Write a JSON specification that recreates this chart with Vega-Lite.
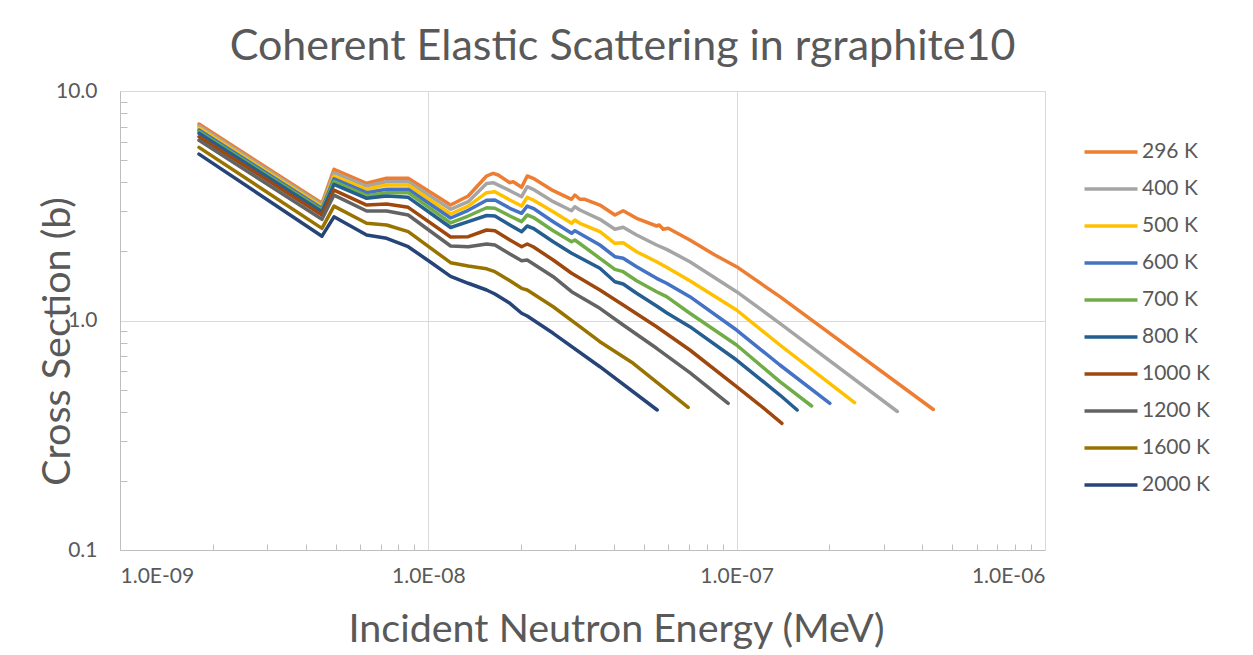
{
  "$schema": "https://vega.github.io/schema/vega-lite/v6.json",
  "width": 925,
  "height": 459,
  "autosize": {"type": "none"},
  "padding": {"left": 120, "top": 91, "right": 208, "bottom": 105},
  "background": "white",
  "config": {
    "font": "Lato",
    "view": {"stroke": "#d9d9d9", "strokeWidth": 1}
  },
  "title": {
    "text": "Coherent Elastic Scattering in rgraphite10",
    "font": "Lato",
    "fontSize": 43,
    "fontWeight": "normal",
    "color": "#595959",
    "anchor": "middle",
    "dx": 40,
    "baseline": "alphabetic",
    "offset": -23
  },
  "datasets": {
    "xs": [
      {"T": "296 K", "E": 1.804e-9, "s": 7.18}, {"T": "296 K", "E": 4.519e-9, "s": 3.24}, {"T": "296 K", "E": 4.943e-9, "s": 4.56},
      {"T": "296 K", "E": 6.308e-9, "s": 3.961}, {"T": "296 K", "E": 7.324e-9, "s": 4.165}, {"T": "296 K", "E": 8.605e-9, "s": 4.165},
      {"T": "296 K", "E": 1.181e-8, "s": 3.185}, {"T": "296 K", "E": 1.347e-8, "s": 3.487}, {"T": "296 K", "E": 1.545e-8, "s": 4.262},
      {"T": "296 K", "E": 1.623e-8, "s": 4.379}, {"T": "296 K", "E": 1.685e-8, "s": 4.305}, {"T": "296 K", "E": 1.839e-8, "s": 3.985},
      {"T": "296 K", "E": 1.885e-8, "s": 4.026}, {"T": "296 K", "E": 2.007e-8, "s": 3.805}, {"T": "296 K", "E": 2.093e-8, "s": 4.262},
      {"T": "296 K", "E": 2.188e-8, "s": 4.165}, {"T": "296 K", "E": 2.541e-8, "s": 3.678}, {"T": "296 K", "E": 2.915e-8, "s": 3.374},
      {"T": "296 K", "E": 2.988e-8, "s": 3.522}, {"T": "296 K", "E": 3.101e-8, "s": 3.374}, {"T": "296 K", "E": 3.219e-8, "s": 3.374},
      {"T": "296 K", "E": 3.601e-8, "s": 3.185}, {"T": "296 K", "E": 4.028e-8, "s": 2.882}, {"T": "296 K", "E": 4.285e-8, "s": 3.009},
      {"T": "296 K", "E": 4.737e-8, "s": 2.788}, {"T": "296 K", "E": 5.5e-8, "s": 2.581}, {"T": "296 K", "E": 5.607e-8, "s": 2.607},
      {"T": "296 K", "E": 5.777e-8, "s": 2.497}, {"T": "296 K", "E": 5.996e-8, "s": 2.522}, {"T": "296 K", "E": 7.05e-8, "s": 2.243},
      {"T": "296 K", "E": 8.5e-8, "s": 1.929}, {"T": "296 K", "E": 9.993e-8, "s": 1.716}, {"T": "296 K", "E": 1.381e-7, "s": 1.27},
      {"T": "296 K", "E": 4.343e-7, "s": 0.4095},

      {"T": "400 K", "E": 1.804e-9, "s": 7.04}, {"T": "400 K", "E": 4.519e-9, "s": 3.19}, {"T": "400 K", "E": 4.943e-9, "s": 4.41},
      {"T": "400 K", "E": 6.308e-9, "s": 3.855}, {"T": "400 K", "E": 7.324e-9, "s": 4.026}, {"T": "400 K", "E": 8.605e-9, "s": 4.026},
      {"T": "400 K", "E": 1.181e-8, "s": 3.051}, {"T": "400 K", "E": 1.347e-8, "s": 3.294}, {"T": "400 K", "E": 1.545e-8, "s": 3.95},
      {"T": "400 K", "E": 1.623e-8, "s": 3.985}, {"T": "400 K", "E": 1.839e-8, "s": 3.678}, {"T": "400 K", "E": 2.007e-8, "s": 3.463},
      {"T": "400 K", "E": 2.093e-8, "s": 3.828}, {"T": "400 K", "E": 2.188e-8, "s": 3.73}, {"T": "400 K", "E": 2.541e-8, "s": 3.294},
      {"T": "400 K", "E": 2.915e-8, "s": 3.009}, {"T": "400 K", "E": 2.988e-8, "s": 3.131}, {"T": "400 K", "E": 3.101e-8, "s": 3.03},
      {"T": "400 K", "E": 3.601e-8, "s": 2.76}, {"T": "400 K", "E": 4.028e-8, "s": 2.497}, {"T": "400 K", "E": 4.285e-8, "s": 2.548},
      {"T": "400 K", "E": 4.737e-8, "s": 2.358}, {"T": "400 K", "E": 5.5e-8, "s": 2.133}, {"T": "400 K", "E": 5.925e-8, "s": 2.042},
      {"T": "400 K", "E": 7.05e-8, "s": 1.804}, {"T": "400 K", "E": 9.993e-8, "s": 1.335}, {"T": "400 K", "E": 1.381e-7, "s": 0.9723},
      {"T": "400 K", "E": 3.32e-7, "s": 0.4013},

      {"T": "500 K", "E": 1.804e-9, "s": 6.9}, {"T": "500 K", "E": 4.519e-9, "s": 3.13}, {"T": "500 K", "E": 4.943e-9, "s": 4.26},
      {"T": "500 K", "E": 6.308e-9, "s": 3.73}, {"T": "500 K", "E": 7.324e-9, "s": 3.894}, {"T": "500 K", "E": 8.605e-9, "s": 3.894},
      {"T": "500 K", "E": 1.181e-8, "s": 2.911}, {"T": "500 K", "E": 1.347e-8, "s": 3.153}, {"T": "500 K", "E": 1.545e-8, "s": 3.605},
      {"T": "500 K", "E": 1.644e-8, "s": 3.641}, {"T": "500 K", "E": 1.839e-8, "s": 3.35}, {"T": "500 K", "E": 2.007e-8, "s": 3.153},
      {"T": "500 K", "E": 2.093e-8, "s": 3.442}, {"T": "500 K", "E": 2.188e-8, "s": 3.35}, {"T": "500 K", "E": 2.541e-8, "s": 2.979},
      {"T": "500 K", "E": 2.915e-8, "s": 2.652}, {"T": "500 K", "E": 2.988e-8, "s": 2.741}, {"T": "500 K", "E": 3.101e-8, "s": 2.652},
      {"T": "500 K", "E": 3.601e-8, "s": 2.438}, {"T": "500 K", "E": 4.028e-8, "s": 2.17}, {"T": "500 K", "E": 4.285e-8, "s": 2.183},
      {"T": "500 K", "E": 4.737e-8, "s": 1.994}, {"T": "500 K", "E": 5.5e-8, "s": 1.804}, {"T": "500 K", "E": 5.925e-8, "s": 1.705},
      {"T": "500 K", "E": 7.05e-8, "s": 1.491}, {"T": "500 K", "E": 9.993e-8, "s": 1.111}, {"T": "500 K", "E": 1.381e-7, "s": 0.7821},
      {"T": "500 K", "E": 2.412e-7, "s": 0.4383},

      {"T": "600 K", "E": 1.804e-9, "s": 6.76}, {"T": "600 K", "E": 4.519e-9, "s": 3.08}, {"T": "600 K", "E": 4.943e-9, "s": 4.14},
      {"T": "600 K", "E": 6.308e-9, "s": 3.605}, {"T": "600 K", "E": 7.324e-9, "s": 3.73}, {"T": "600 K", "E": 8.605e-9, "s": 3.73},
      {"T": "600 K", "E": 1.181e-8, "s": 2.796}, {"T": "600 K", "E": 1.347e-8, "s": 3.021}, {"T": "600 K", "E": 1.545e-8, "s": 3.34},
      {"T": "600 K", "E": 1.644e-8, "s": 3.35}, {"T": "600 K", "E": 1.839e-8, "s": 3.082}, {"T": "600 K", "E": 2.007e-8, "s": 2.931},
      {"T": "600 K", "E": 2.093e-8, "s": 3.153}, {"T": "600 K", "E": 2.188e-8, "s": 3.082}, {"T": "600 K", "E": 2.541e-8, "s": 2.695},
      {"T": "600 K", "E": 2.915e-8, "s": 2.399}, {"T": "600 K", "E": 2.988e-8, "s": 2.462}, {"T": "600 K", "E": 3.601e-8, "s": 2.133},
      {"T": "600 K", "E": 4.028e-8, "s": 1.897}, {"T": "600 K", "E": 4.285e-8, "s": 1.866}, {"T": "600 K", "E": 4.737e-8, "s": 1.716},
      {"T": "600 K", "E": 5.5e-8, "s": 1.527}, {"T": "600 K", "E": 5.925e-8, "s": 1.453}, {"T": "600 K", "E": 7.05e-8, "s": 1.27},
      {"T": "600 K", "E": 9.993e-8, "s": 0.9089}, {"T": "600 K", "E": 1.381e-7, "s": 0.6398}, {"T": "600 K", "E": 2.006e-7, "s": 0.4357},

      {"T": "700 K", "E": 1.804e-9, "s": 6.65}, {"T": "700 K", "E": 4.519e-9, "s": 3.03}, {"T": "700 K", "E": 4.943e-9, "s": 4.03},
      {"T": "700 K", "E": 6.308e-9, "s": 3.498}, {"T": "700 K", "E": 7.324e-9, "s": 3.605}, {"T": "700 K", "E": 8.605e-9, "s": 3.605},
      {"T": "700 K", "E": 1.181e-8, "s": 2.66}, {"T": "700 K", "E": 1.347e-8, "s": 2.853}, {"T": "700 K", "E": 1.545e-8, "s": 3.1},
      {"T": "700 K", "E": 1.644e-8, "s": 3.082}, {"T": "700 K", "E": 1.839e-8, "s": 2.853}, {"T": "700 K", "E": 2.007e-8, "s": 2.695},
      {"T": "700 K", "E": 2.093e-8, "s": 2.882}, {"T": "700 K", "E": 2.188e-8, "s": 2.816}, {"T": "700 K", "E": 2.541e-8, "s": 2.462},
      {"T": "700 K", "E": 2.915e-8, "s": 2.205}, {"T": "700 K", "E": 2.988e-8, "s": 2.243}, {"T": "700 K", "E": 3.601e-8, "s": 1.866},
      {"T": "700 K", "E": 4.028e-8, "s": 1.671}, {"T": "700 K", "E": 4.285e-8, "s": 1.632}, {"T": "700 K", "E": 4.737e-8, "s": 1.491},
      {"T": "700 K", "E": 5.5e-8, "s": 1.335}, {"T": "700 K", "E": 5.925e-8, "s": 1.27}, {"T": "700 K", "E": 7.05e-8, "s": 1.075},
      {"T": "700 K", "E": 9.993e-8, "s": 0.7821}, {"T": "700 K", "E": 1.381e-7, "s": 0.5412}, {"T": "700 K", "E": 1.75e-7, "s": 0.4241},

      {"T": "800 K", "E": 1.804e-9, "s": 6.54}, {"T": "800 K", "E": 4.519e-9, "s": 2.98}, {"T": "800 K", "E": 4.943e-9, "s": 3.92},
      {"T": "800 K", "E": 6.308e-9, "s": 3.408}, {"T": "800 K", "E": 7.324e-9, "s": 3.487}, {"T": "800 K", "E": 8.605e-9, "s": 3.442},
      {"T": "800 K", "E": 1.181e-8, "s": 2.542}, {"T": "800 K", "E": 1.347e-8, "s": 2.695}, {"T": "800 K", "E": 1.545e-8, "s": 2.868},
      {"T": "800 K", "E": 1.644e-8, "s": 2.853}, {"T": "800 K", "E": 1.839e-8, "s": 2.607}, {"T": "800 K", "E": 2.007e-8, "s": 2.438},
      {"T": "800 K", "E": 2.093e-8, "s": 2.581}, {"T": "800 K", "E": 2.188e-8, "s": 2.522}, {"T": "800 K", "E": 2.541e-8, "s": 2.205},
      {"T": "800 K", "E": 2.915e-8, "s": 1.963}, {"T": "800 K", "E": 2.988e-8, "s": 1.929}, {"T": "800 K", "E": 3.601e-8, "s": 1.688},
      {"T": "800 K", "E": 4.028e-8, "s": 1.476}, {"T": "800 K", "E": 4.285e-8, "s": 1.442}, {"T": "800 K", "E": 4.737e-8, "s": 1.314},
      {"T": "800 K", "E": 5.5e-8, "s": 1.157}, {"T": "800 K", "E": 5.925e-8, "s": 1.081}, {"T": "800 K", "E": 7.05e-8, "s": 0.9397},
      {"T": "800 K", "E": 9.993e-8, "s": 0.6727}, {"T": "800 K", "E": 1.381e-7, "s": 0.4735}, {"T": "800 K", "E": 1.571e-7, "s": 0.4074},

      {"T": "1000 K", "E": 1.804e-9, "s": 6.32}, {"T": "1000 K", "E": 4.519e-9, "s": 2.88}, {"T": "1000 K", "E": 4.943e-9, "s": 3.7},
      {"T": "1000 K", "E": 6.308e-9, "s": 3.185}, {"T": "1000 K", "E": 7.324e-9, "s": 3.219}, {"T": "1000 K", "E": 8.605e-9, "s": 3.113},
      {"T": "1000 K", "E": 1.181e-8, "s": 2.311}, {"T": "1000 K", "E": 1.347e-8, "s": 2.318}, {"T": "1000 K", "E": 1.545e-8, "s": 2.479},
      {"T": "1000 K", "E": 1.644e-8, "s": 2.462}, {"T": "1000 K", "E": 1.839e-8, "s": 2.243}, {"T": "1000 K", "E": 2.007e-8, "s": 2.096},
      {"T": "1000 K", "E": 2.093e-8, "s": 2.154}, {"T": "1000 K", "E": 2.188e-8, "s": 2.096}, {"T": "1000 K", "E": 2.541e-8, "s": 1.835},
      {"T": "1000 K", "E": 2.915e-8, "s": 1.606}, {"T": "1000 K", "E": 3.601e-8, "s": 1.358}, {"T": "1000 K", "E": 4.285e-8, "s": 1.168},
      {"T": "1000 K", "E": 5.5e-8, "s": 0.9397}, {"T": "1000 K", "E": 7.05e-8, "s": 0.7438}, {"T": "1000 K", "E": 9.993e-8, "s": 0.5147},
      {"T": "1000 K", "E": 1.189e-7, "s": 0.4283}, {"T": "1000 K", "E": 1.402e-7, "s": 0.3565},

      {"T": "1200 K", "E": 1.804e-9, "s": 6.1}, {"T": "1200 K", "E": 4.519e-9, "s": 2.76}, {"T": "1200 K", "E": 4.943e-9, "s": 3.52},
      {"T": "1200 K", "E": 6.308e-9, "s": 3.0}, {"T": "1200 K", "E": 7.324e-9, "s": 3.0}, {"T": "1200 K", "E": 8.605e-9, "s": 2.882},
      {"T": "1200 K", "E": 1.181e-8, "s": 2.111}, {"T": "1200 K", "E": 1.347e-8, "s": 2.096}, {"T": "1200 K", "E": 1.545e-8, "s": 2.154},
      {"T": "1200 K", "E": 1.644e-8, "s": 2.133}, {"T": "1200 K", "E": 1.839e-8, "s": 1.949}, {"T": "1200 K", "E": 2.007e-8, "s": 1.822},
      {"T": "1200 K", "E": 2.093e-8, "s": 1.835}, {"T": "1200 K", "E": 2.541e-8, "s": 1.552}, {"T": "1200 K", "E": 2.915e-8, "s": 1.335},
      {"T": "1200 K", "E": 3.601e-8, "s": 1.13}, {"T": "1200 K", "E": 4.285e-8, "s": 0.9558}, {"T": "1200 K", "E": 5.5e-8, "s": 0.7566},
      {"T": "1200 K", "E": 7.05e-8, "s": 0.5924}, {"T": "1200 K", "E": 9.385e-8, "s": 0.4357},

      {"T": "1600 K", "E": 1.804e-9, "s": 5.68}, {"T": "1600 K", "E": 4.519e-9, "s": 2.52}, {"T": "1600 K", "E": 4.943e-9, "s": 3.15},
      {"T": "1600 K", "E": 6.308e-9, "s": 2.652}, {"T": "1600 K", "E": 7.324e-9, "s": 2.607}, {"T": "1600 K", "E": 8.605e-9, "s": 2.438},
      {"T": "1600 K", "E": 1.181e-8, "s": 1.786}, {"T": "1600 K", "E": 1.347e-8, "s": 1.728}, {"T": "1600 K", "E": 1.545e-8, "s": 1.68},
      {"T": "1600 K", "E": 1.644e-8, "s": 1.632}, {"T": "1600 K", "E": 1.839e-8, "s": 1.491}, {"T": "1600 K", "E": 2.007e-8, "s": 1.381},
      {"T": "1600 K", "E": 2.093e-8, "s": 1.358}, {"T": "1600 K", "E": 2.541e-8, "s": 1.148}, {"T": "1600 K", "E": 3.101e-8, "s": 0.9397},
      {"T": "1600 K", "E": 3.601e-8, "s": 0.8085}, {"T": "1600 K", "E": 4.617e-8, "s": 0.6508}, {"T": "1600 K", "E": 6.961e-8, "s": 0.4186},

      {"T": "2000 K", "E": 1.804e-9, "s": 5.31}, {"T": "2000 K", "E": 4.519e-9, "s": 2.33}, {"T": "2000 K", "E": 4.943e-9, "s": 2.83},
      {"T": "2000 K", "E": 6.308e-9, "s": 2.358}, {"T": "2000 K", "E": 7.324e-9, "s": 2.281}, {"T": "2000 K", "E": 8.605e-9, "s": 2.096},
      {"T": "2000 K", "E": 1.012e-8, "s": 1.804}, {"T": "2000 K", "E": 1.181e-8, "s": 1.558}, {"T": "2000 K", "E": 1.347e-8, "s": 1.453},
      {"T": "2000 K", "E": 1.545e-8, "s": 1.358}, {"T": "2000 K", "E": 1.644e-8, "s": 1.305}, {"T": "2000 K", "E": 1.839e-8, "s": 1.188},
      {"T": "2000 K", "E": 2.007e-8, "s": 1.075}, {"T": "2000 K", "E": 2.093e-8, "s": 1.046}, {"T": "2000 K", "E": 2.541e-8, "s": 0.8794},
      {"T": "2000 K", "E": 3.601e-8, "s": 0.629}, {"T": "2000 K", "E": 5.524e-8, "s": 0.4074}
    ]
  },
  "data": {"name": "xs"},
  "resolve": {"axis": {"x": "independent", "y": "independent"}},
  "layer": [
    {
      "mark": {"type": "point", "opacity": 0},
      "encoding": {
        "x": {
          "field": "E", "type": "quantitative",
          "scale": {"type": "log", "domain": [1e-9, 1e-6], "nice": false},
          "axis": {
            "orient": "bottom",
            "values": [2e-9, 3e-9, 4e-9, 5e-9, 6e-9, 7e-9, 8e-9, 9e-9, 2e-8, 3e-8, 4e-8, 5e-8, 6e-8, 7e-8, 8e-8, 9e-8, 2e-7, 3e-7, 4e-7, 5e-7, 6e-7, 7e-7, 8e-7, 9e-7],
            "labels": false, "grid": false, "domain": false, "title": null,
            "ticks": true, "tickSize": -6, "tickColor": "#bfbfbf", "tickWidth": 1
          }
        },
        "y": {
          "field": "s", "type": "quantitative",
          "scale": {"type": "log", "domain": [0.1, 10], "nice": false},
          "axis": {
            "orient": "left",
            "values": [0.2, 0.3, 0.4, 0.5, 0.6, 0.7, 0.8, 0.9, 2, 3, 4, 5, 6, 7, 8, 9],
            "labels": false, "grid": false, "domain": false, "title": null,
            "ticks": true, "tickSize": -7, "tickColor": "#bfbfbf", "tickWidth": 1
          }
        }
      }
    },
    {
      "mark": {"type": "line", "strokeWidth": 3.5, "strokeCap": "round", "strokeJoin": "round"},
      "encoding": {
        "x": {
          "field": "E", "type": "quantitative",
          "scale": {"type": "log", "domain": [1e-9, 1e-6], "nice": false},
          "axis": {
            "orient": "bottom",
            "values": [1e-9, 1e-8, 1e-7, 1e-6],
            "labelExpr": "'1.0E-0' + round(-log(datum.value)/LN10)",
            "grid": true, "gridColor": "#d9d9d9", "gridWidth": 1,
            "ticks": false, "domainColor": "#bfbfbf",
            "labelFont": "Lato", "labelFontSize": 21, "labelColor": "#595959", "labelPadding": 15,
            "title": "Incident Neutron Energy (MeV)", "titleFont": "Lato", "titleFontSize": 39.5,
            "titleFontWeight": "normal", "titleColor": "#595959", "titlePadding": 24,
            "titleX": 496, "titleAnchor": "middle", "titleAlign": "center"
          }
        },
        "y": {
          "field": "s", "type": "quantitative",
          "scale": {"type": "log", "domain": [0.1, 10], "nice": false},
          "axis": {
            "orient": "left",
            "values": [0.1, 1, 10],
            "format": ".1f",
            "grid": true, "gridColor": "#d9d9d9", "gridWidth": 1,
            "ticks": false, "domainColor": "#bfbfbf",
            "labelFont": "Lato", "labelFontSize": 21, "labelColor": "#595959", "labelPadding": 23,
            "title": "Cross Section (b)", "titleFont": "Lato", "titleFontSize": 39.5,
            "titleFontWeight": "normal", "titleColor": "#595959", "titlePadding": -22,
            "titleY": 250, "titleAnchor": "middle", "titleAlign": "center"
          }
        },
        "color": {
          "field": "T", "type": "nominal",
          "scale": {
            "domain": ["296 K", "400 K", "500 K", "600 K", "700 K", "800 K", "1000 K", "1200 K", "1600 K", "2000 K"],
            "range": ["#ED7D31", "#A5A5A5", "#FFC000", "#4472C4", "#70AD47", "#255E91", "#9E480E", "#636363", "#997300", "#264478"]
          },
          "legend": {
            "orient": "none",
            "legendX": 976,
            "legendY": 46,
            "title": null,
            "padding": 0,
            "symbolType": "M-2,0H2",
            "symbolSize": 702,
            "symbolStrokeWidth": 3.5,
            "labelFont": "Lato",
            "labelFontSize": 21,
            "labelColor": "#595959",
            "labelOffset": 16,
            "rowPadding": 12
          }
        }
      }
    }
  ]
}
